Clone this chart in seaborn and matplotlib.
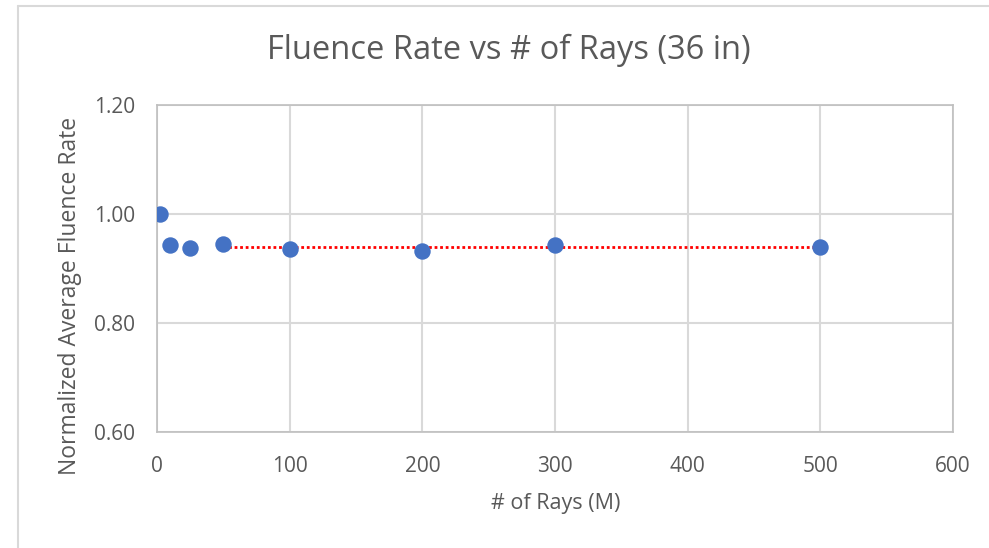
import matplotlib
matplotlib.use("Agg")
import matplotlib.pyplot as plt
import seaborn as sns
import pandas as pd
from matplotlib.lines import Line2D

# Data
rays_m = [2, 10, 25, 50, 100, 200, 300, 500]
fluence_norm = [1.000, 0.943, 0.938, 0.9455, 0.935, 0.932, 0.943, 0.940]
avg_x = [50, 500]
avg_y = [0.939, 0.939]
x_ticks = [0, 100, 200, 300, 400, 500, 600]
y_ticks = [0.60, 0.80, 1.00, 1.20]

sns.set_theme(style="white")
plt.rcParams['font.family'] = ['Open Sans', 'DejaVu Sans']

W, H = 989, 548
fig = plt.figure(figsize=(W / 100, H / 100), dpi=100)
ax = fig.add_axes([157 / W, (H - 432) / H, (953 - 157) / W, (432 - 105) / H])

df = pd.DataFrame({"x": rays_m, "y": fluence_norm})
sns.lineplot(x=avg_x, y=avg_y, ax=ax, color="#FF0000", linestyle=(0, (1, 1)),
             linewidth=2.0, zorder=2)
sns.scatterplot(data=df, x="x", y="y", ax=ax, s=140, color="#4472C4",
                edgecolor="#4472C4", linewidth=0, zorder=3)

ax.set_xlim(0, 600)
ax.set_ylim(0.60, 1.20)
ax.set_xticks(x_ticks)
ax.set_yticks(y_ticks)
ax.set_yticklabels([f"{v:.2f}" for v in y_ticks])
ax.grid(True, color="#D9D9D9", linewidth=1.5)
ax.set_axisbelow(True)
for s in ax.spines.values():
    s.set_color("#BFBFBF")
    s.set_linewidth(1.2)
ax.tick_params(axis="both", length=0, labelsize=15, colors="#595959")
ax.tick_params(axis="x", pad=17)
ax.tick_params(axis="y", pad=16)

ax.set_xlabel("# of Rays (M)", fontsize=15.5, color="#595959", va="center")
ax.set_ylabel("Normalized Average Fluence Rate", fontsize=16.5, color="#595959", va="center")
ax.xaxis.set_label_coords(0.501, (432 - 503) / 327)
ax.yaxis.set_label_coords((70 - 157) / 796, (432 - 295.5) / 327)
fig.text(509 / W, 1 - 50 / H, "Fluence Rate vs # of Rays (36 in)", ha="center", va="center",
         fontsize=23.5, color="#595959")

# outer chart border (left and top visible)
fig.add_artist(Line2D([17.5 / W, 17.5 / W], [0, 1 - 5.5 / H], transform=fig.transFigure,
                      color="#D9D9D9", linewidth=1.5))
fig.add_artist(Line2D([17.5 / W, 1], [1 - 5.5 / H, 1 - 5.5 / H], transform=fig.transFigure,
                      color="#D9D9D9", linewidth=1.5))

fig.savefig("out.png", dpi=100, facecolor="white")
